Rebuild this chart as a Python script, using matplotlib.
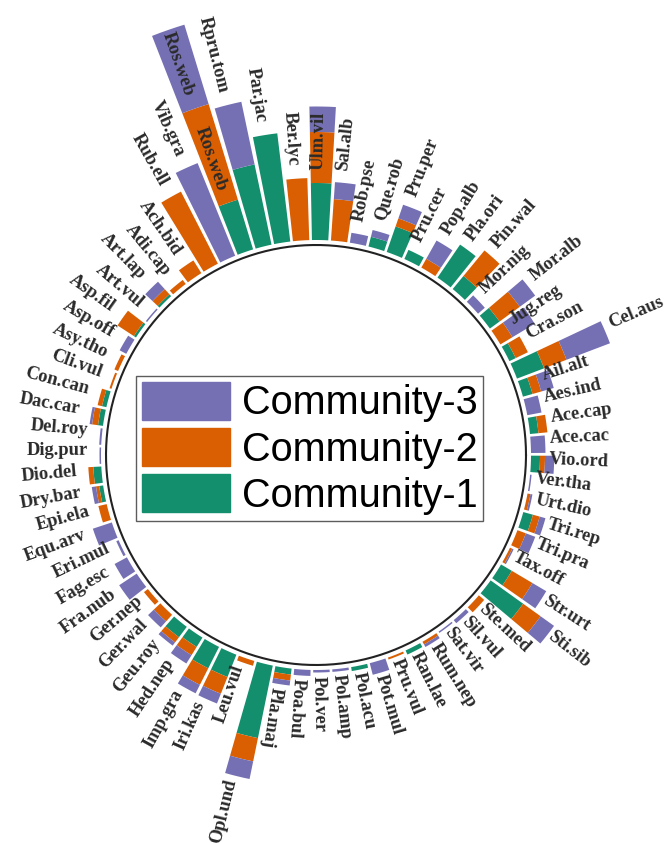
import numpy as np
import matplotlib.pyplot as plt
from matplotlib.patches import Patch
from matplotlib.transforms import offset_copy

# species in plotting order (counter-clockwise, starting at Ach.bid)
species = [
    "Ach.bid", "Adi.cap", "Art.lap", "Art.vul", "Asp.fil", "Asp.off", "Asy.tho",
    "Cli.vul", "Con.can", "Dac.car", "Del.roy", "Dig.pur", "Dio.del", "Dry.bar",
    "Epi.ela", "Equ.arv", "Eri.mul", "Fag.esc", "Fra.nub", "Ger.nep", "Ger.wal",
    "Geu.roy", "Hed.nep", "Imp.gra", "Iri.kas", "Leu.vul", "Opl.und", "Pla.maj",
    "Poa.bul", "Pol.ver", "Pol.amp", "Pol.acu", "Pot.mul", "Pru.vul", "Ran.lae",
    "Rum.nep", "Sat.vir", "Sil.vul", "Ste.med", "Sti.sib", "Str.urt", "Tax.off",
    "Tri.pra", "Tri.rep", "Urt.dio", "Ver.tha", "Vio.ord",
    "Ace.cac", "Ace.cap", "Aes.ind", "Ail.alt", "Cel.aus", "Cra.son", "Jug.reg",
    "Mor.alb", "Mor.nig", "Pin.wal", "Pla.ori", "Pop.alb", "Pru.cer", "Pru.per",
    "Que.rob", "Rob.pse", "Sal.alb", "Ulm.vil",
    "Ber.lyc", "Par.jac", "Rpru.tom", "Ros.web", "Vib.gra", "Rub.ell",
]

community1 = [
    0, 0, 1.0, 0, 1.0, 0, 0,
    0, 1.8, 2.0, 0, 0, 3.2, 1.6,
    0, 0, 0, 0, 0, 0, 0,
    5.2, 4.4, 9.6, 9.6, 0, 29.6, 2.4,
    0, 0, 0, 1.6, 0, 0, 1.8,
    0, 0, 0, 0, 16.0, 5.0, 0,
    0, 4.0, 0, 0, 3.6,
    0, 3.4, 0, 4.0, 11.6, 2.8, 0,
    4.8, 0, 6.8, 16.0, 0, 4.0, 10.8,
    4.0, 0, 0, 22.8,
    0, 43.6, 32.8, 20.8, 0, 0,
]

community2 = [
    6.0, 2.0, 2.8, 0, 7.8, 0, 1.6,
    0.8, 1.8, 2.4, 0, 0, 2.0, 1.3,
    3.4, 0, 0, 0, 0, 2.0, 3.6,
    2.6, 3.9, 7.4, 7.2, 2.0, 9.5, 2.4,
    0, 0, 0, 0, 0, 0.8, 0,
    1.2, 0, 0, 2.8, 8.6, 9.6, 1.0,
    3.6, 2.8, 1.2, 0, 2.0,
    0, 3.6, 0, 3.6, 9.6, 5.4, 5.6,
    10.0, 0, 13.2, 0, 4.0, 0, 3.4,
    0, 0, 16.6, 20.4,
    24.8, 0, 0, 40.0, 0, 32.4,
]

community3 = [
    0, 0, 4.0, 0.6, 0, 3.0, 0,
    0, 0, 1.0, 0.8, 0.6, 0, 1.7,
    0, 8.0, 1.0, 5.6, 8.4, 0, 3.2,
    1.6, 3.9, 3.8, 4.2, 0, 7.2, 2.0,
    2.4, 1.0, 1.0, 0, 4.8, 0, 0,
    1.2, 0.6, 1.6, 0, 6.6, 6.4, 0.6,
    4.0, 2.4, 0.8, 0.6, 3.7,
    5.8, 0, 5.8, 5.2, 18.6, 0, 10.4,
    7.6, 3.6, 0, 0, 8.4, 0, 5.8,
    2.8, 4.0, 6.8, 10.2,
    0, 0, 25.6, 33.2, 40.0, 0,
]

# stack level at which a label sits (1 = top of community-1, ... 3 = total)
label_levels = {"Ulm.vil": [1], "Ros.web": [1, 2], "Jug.reg": [2],
                "Ail.alt": [2], "Vio.ord": [2]}

colors = {"c1": "#148f6e", "c2": "#d95f02", "c3": "#7570b3"}

PX = 0.4          # data units per pixel
base = 215 * PX   # inner radius of the bars
ring = 210 * PX   # black circle
gap = 8 * PX      # distance between bar end and label

c1 = np.array(community1)
c2 = np.array(community2)
c3 = np.array(community3)
n = len(species)
theta = np.deg2rad(124.4 + np.arange(n) * 360 / n)
width = 2 * np.pi / n * 0.86

fig = plt.figure(figsize=(6.66, 8.43), dpi=100)
half = 470
ax = fig.add_axes([(316 - half) / 666, (843 - 455 - half) / 843,
                   2 * half / 666, 2 * half / 843], projection="polar")
ax.set_ylim(0, half * PX)
ax.axis("off")

ax.bar(theta, c1, width=width, bottom=base, color=colors["c1"], linewidth=0)
ax.bar(theta, c2, width=width, bottom=base + c1, color=colors["c2"], linewidth=0)
ax.bar(theta, c3, width=width, bottom=base + c1 + c2, color=colors["c3"], linewidth=0)

t = np.linspace(0, 2 * np.pi, 500)
ax.plot(t, np.full_like(t, ring), color="#222222", lw=1.5)

# labels sit slightly up and left of their bars in the original
label_trans = offset_copy(ax.transData, fig=fig, x=-3.5, y=5, units="dots")

for i, name in enumerate(species):
    deg = np.rad2deg(theta[i]) % 360
    stack = [c1[i], c1[i] + c2[i], c1[i] + c2[i] + c3[i]]
    if 92 < deg < 258:
        rot, ha = deg - 180, "right"
    else:
        rot, ha = deg, "left"
    for lv in label_levels.get(name, [3]):
        ax.text(theta[i], base + stack[lv - 1] + gap, name, rotation=rot,
                rotation_mode="anchor", ha=ha, va="center", fontsize=13.3,
                fontweight="bold", family="Liberation Serif", color="#2a2a2a",
                transform=label_trans)

handles = [Patch(color=colors["c3"], label="Community-3"),
           Patch(color=colors["c2"], label="Community-2"),
           Patch(color=colors["c1"], label="Community-1")]
leg = fig.legend(handles=handles, loc="upper left",
                 bbox_to_anchor=(136 / 666, 1 - 376 / 843),
                 prop={"family": "Liberation Sans", "size": 28.5},
                 frameon=True, fancybox=False, edgecolor="#333333",
                 handlelength=2.22, handleheight=1.09, labelspacing=0.15,
                 borderpad=0.15, handletextpad=0.3, borderaxespad=0)
leg.get_frame().set_linewidth(1.0)

fig.savefig("out.png", dpi=100)
